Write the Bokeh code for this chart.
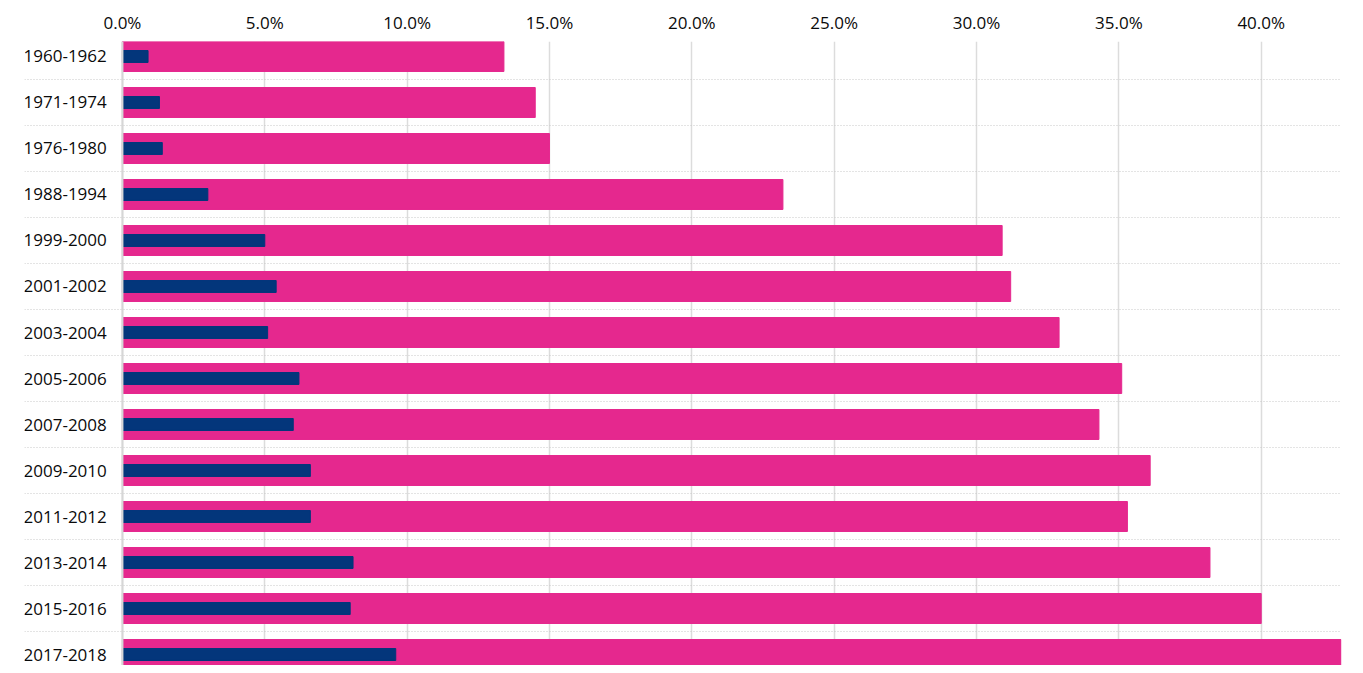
from bokeh.plotting import figure
from bokeh.models import Range1d, FixedTicker, PrintfTickFormatter, Span, ColumnDataSource
from bokeh.core.properties import value
from bokeh.embed import file_html
from bokeh.resources import INLINE

categories = ["1960-1962", "1971-1974", "1976-1980", "1988-1994", "1999-2000",
              "2001-2002", "2003-2004", "2005-2006", "2007-2008", "2009-2010",
              "2011-2012", "2013-2014", "2015-2016", "2017-2018"]
pink_values = [13.4, 14.5, 15.0, 23.2, 30.9, 31.2, 32.9, 35.1, 34.3, 36.1,
               35.3, 38.2, 40.0, 42.8]
blue_values = [0.9, 1.3, 1.4, 3.0, 5.0, 5.4, 5.1, 6.2, 6.0, 6.6,
               6.6, 8.1, 8.0, 9.6]
x_ticks = [0, 5, 10, 15, 20, 25, 30, 35, 40]

PINK = "#e5288e"
BLUE = "#03367b"
FONT = "Open Sans"

idx = list(range(len(categories)))
src = ColumnDataSource(dict(y=idx, cat=categories, pink=pink_values, blue=blue_values,
                            lx=[-0.55] * len(categories)))

p = figure(width=1354, height=665, output_backend="svg", toolbar_location=None,
           x_range=Range1d(-3.44, 42.82), y_range=Range1d(13.239, -0.326),
           x_axis_location="above", min_border_left=24, min_border_right=13,
           min_border_top=41, min_border_bottom=0)
p.outline_line_color = None
p.background_fill_color = "white"
p.border_fill_color = "white"

p.yaxis.visible = False
p.ygrid.visible = False

xa = p.xaxis[0]
xa.ticker = FixedTicker(ticks=x_ticks)
xa.formatter = PrintfTickFormatter(format="%.1f%%")
xa.axis_line_color = None
xa.major_tick_line_color = None
xa.minor_tick_line_color = None
xa.major_tick_out = 0
xa.major_label_text_font = FONT
xa.major_label_text_font_size = "17px"
xa.major_label_text_color = "#0a0a0a"
xa.major_label_standoff = 8

p.xgrid.ticker = FixedTicker(ticks=x_ticks)
p.xgrid.grid_line_color = "#dcdcdc"
p.xgrid.grid_line_width = 1.5

for i in range(len(categories) - 1):
    p.add_layout(Span(location=i + 0.5, dimension="width", line_color="#c8c8c8",
                      line_width=1, line_dash="1 2"))
p.add_layout(Span(location=0, dimension="height", line_color="#d6d6d6", line_width=2))

p.hbar(y="y", left=0, right="pink", height=0.652, color=PINK, source=src)
p.hbar(y="y", left=0, right="blue", height=0.26, color=BLUE, source=src)

p.text(x="lx", y="y", text="cat", source=src, text_align="right", text_baseline="middle",
       text_font=value(FONT), text_font_size="17px", text_color="#0a0a0a")

open("out.html", "w").write(file_html(p, INLINE))
